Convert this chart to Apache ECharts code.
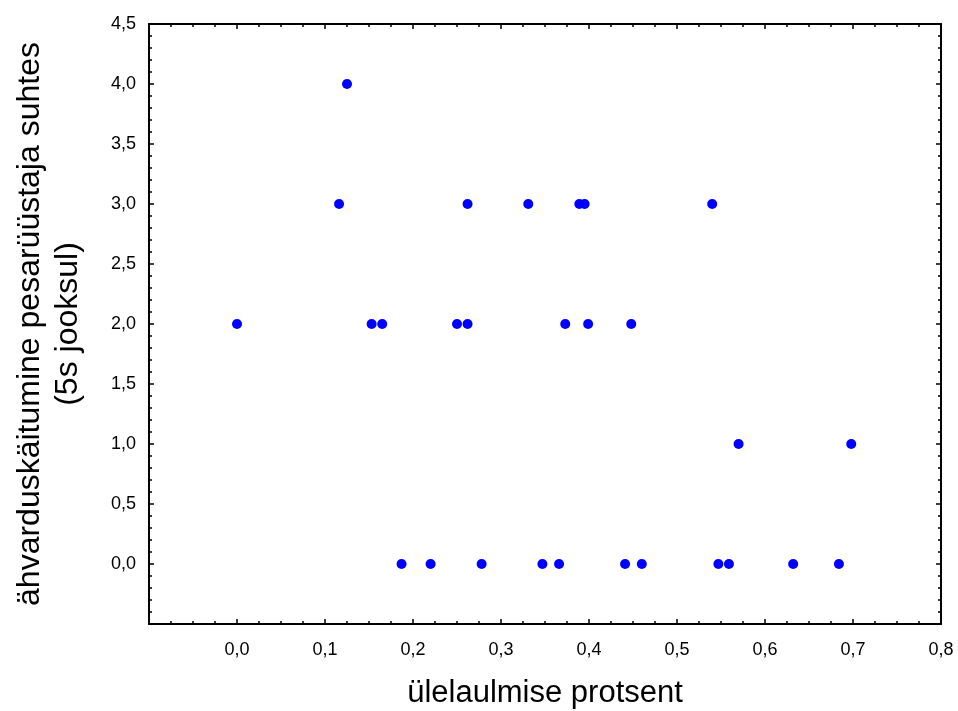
<!DOCTYPE html>
<html>
<head>
<meta charset="utf-8">
<script src="https://cdn.jsdelivr.net/npm/echarts@6/dist/echarts.min.js"></script>
<style>
html,body{margin:0;padding:0;background:#fff;}
#chart{width:958px;height:711px;}
</style>
</head>
<body>
<div id="chart"></div>
<script>
// Data
var xValues = [0.000, 0.116, 0.125, 0.153, 0.165, 0.187, 0.220, 0.250, 0.262, 0.262,
               0.278, 0.331, 0.347, 0.366, 0.373, 0.389, 0.395, 0.399, 0.441, 0.448,
               0.460, 0.540, 0.547, 0.559, 0.570, 0.632, 0.684, 0.698];
var yValues = [2, 3, 4, 2, 2, 0, 0, 2, 2, 3,
               0, 3, 0, 0, 2, 3, 3, 2, 0, 2,
               0, 3, 0, 0, 1, 0, 0, 1];
var xTitle = 'ülelaulmise protsent';
var yTitleLines = ['ähvarduskäitumine pesarüüstaja suhtes', '(5s jooksul)'];

var points = xValues.map(function (x, i) { return [x, yValues[i]]; });
var FONT = '"Liberation Sans", Arial, sans-serif';

function fmt(v) {
  if (v < -1e-9) return '';
  return (Math.round(v * 10) / 10).toFixed(1).replace('.', ',');
}

var tickCommon = { show: true, inside: true, length: 5, lineStyle: { color: '#000', width: 1.5 } };
var minorCommon = { show: true, length: 3, lineStyle: { color: '#000', width: 1.5 } };
var lineCommon = { show: true, onZero: false, lineStyle: { color: '#000', width: 2 } };

var chart = echarts.init(document.getElementById('chart'), null, { renderer: 'canvas' });
chart.setOption({
  backgroundColor: '#ffffff',
  animation: false,
  grid: { left: 149, right: 17, top: 24, bottom: 87, containLabel: false, outerBoundsMode: 'none' },
  xAxis: [{
    type: 'value', min: -0.1, max: 0.8, interval: 0.1, position: 'bottom',
    axisLine: lineCommon,
    axisTick: tickCommon,
    minorTick: Object.assign({ splitNumber: 4 }, minorCommon),
    splitLine: { show: false },
    axisLabel: { show: true, margin: 17, color: '#000', fontFamily: FONT, fontSize: 18, formatter: fmt },
    name: xTitle, nameLocation: 'middle', nameGap: 54,
    nameTextStyle: { color: '#000', fontFamily: FONT, fontSize: 31 }
  }, {
    type: 'value', min: -0.1, max: 0.8, interval: 0.1, position: 'top',
    axisLine: lineCommon,
    axisTick: tickCommon,
    minorTick: Object.assign({ splitNumber: 4 }, minorCommon),
    splitLine: { show: false },
    axisLabel: { show: false }
  }],
  yAxis: [{
    type: 'value', min: -0.5, max: 4.5, interval: 0.5, position: 'left',
    axisLine: lineCommon,
    axisTick: tickCommon,
    minorTick: Object.assign({ splitNumber: 5 }, minorCommon),
    splitLine: { show: false },
    axisLabel: { show: true, margin: 13, color: '#000', fontFamily: FONT, fontSize: 18, formatter: fmt },
    name: yTitleLines.join('\n'), nameLocation: 'middle', nameGap: 62,
    nameTextStyle: { color: '#000', fontFamily: FONT, fontSize: 32, lineHeight: 38, align: 'center' }
  }, {
    type: 'value', min: -0.5, max: 4.5, interval: 0.5, position: 'right',
    axisLine: lineCommon,
    axisTick: tickCommon,
    minorTick: Object.assign({ splitNumber: 5 }, minorCommon),
    splitLine: { show: false },
    axisLabel: { show: false }
  }],
  series: [{
    type: 'scatter',
    xAxisIndex: 0, yAxisIndex: 0,
    data: points,
    symbol: 'circle',
    symbolSize: 10,
    itemStyle: { color: '#0000ff', opacity: 1 }
  }]
});
</script>
</body>
</html>
